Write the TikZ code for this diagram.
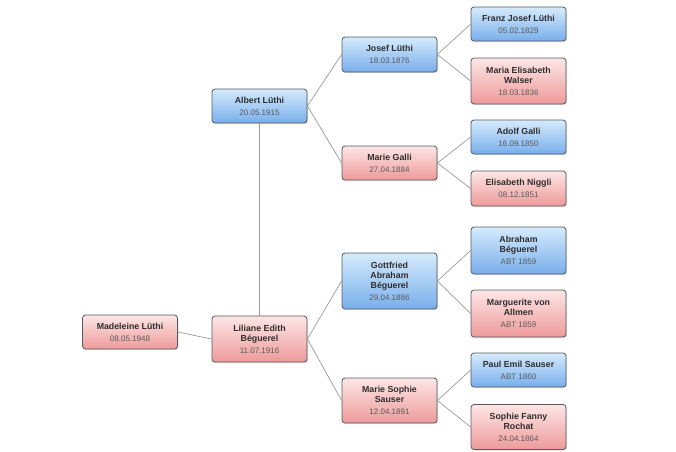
\documentclass[tikz,border=0pt]{standalone}
\usepackage{fontspec}
\setmainfont{Liberation Sans}
\usetikzlibrary{shadows}
\definecolor{bluetop}{HTML}{D6EBFC}
\definecolor{bluebot}{HTML}{78AEEB}
\definecolor{pinktop}{HTML}{FDE6E6}
\definecolor{pinkbot}{HTML}{EE9A9A}
\definecolor{boxline}{HTML}{555A60}
\definecolor{namecol}{HTML}{2E2E2E}
\definecolor{datecol}{HTML}{5A5A5A}
\definecolor{linkcol}{HTML}{9A9A9A}
\newcommand{\pname}[1]{{\bfseries #1}}
\newcommand{\pdate}[1]{{\fontsize{8}{10}\selectfont\color{datecol}#1}}
\tikzset{
  person/.style={draw=boxline, line width=0.8pt, rounded corners=3pt,
    minimum width=95pt, inner sep=0pt, align=center, text=namecol,
    font=\fontsize{8.8}{10.2}\selectfont,
    drop shadow={opacity=0.25, shadow xshift=1pt, shadow yshift=-1.2pt}},
  male/.style={person, top color=bluetop, bottom color=bluebot},
  female/.style={person, top color=pinktop, bottom color=pinkbot},
  link/.style={draw=linkcol, line width=0.7pt}
}
\begin{document}
\begin{tikzpicture}[x=1pt,y=-1pt]
\useasboundingbox (0,0) rectangle (676,451);
% generation 0
\node[female, minimum height=34pt] (mad) at (130,332)
  {\pname{Madeleine Lüthi}\\[1.5pt]\pdate{08.05.1948}};
% generation 1
\node[male, minimum height=34pt] (alb) at (259.5,106)
  {\pname{Albert Lüthi}\\[1.5pt]\pdate{20.05.1915}};
\node[female, minimum height=46pt] (lil) at (259.5,339)
  {\pname{Liliane Edith}\\\pname{Béguerel}\\[1.5pt]\pdate{11.07.1916}};
% generation 2
\node[male, minimum height=35pt] (jos) at (389.5,54.5)
  {\pname{Josef Lüthi}\\[1.5pt]\pdate{18.03.1876}};
\node[female, minimum height=34pt] (mga) at (389.5,163)
  {\pname{Marie Galli}\\[1.5pt]\pdate{27.04.1884}};
\node[male, minimum height=56pt] (got) at (389.5,281)
  {\pname{Gottfried}\\\pname{Abraham}\\\pname{Béguerel}\\[1.5pt]\pdate{29.04.1886}};
\node[female, minimum height=45pt] (mss) at (389.5,400.5)
  {\pname{Marie Sophie}\\\pname{Sauser}\\[1.5pt]\pdate{12.04.1891}};
% generation 3
\node[male, minimum height=34pt] (fjl) at (518.5,24)
  {\pname{Franz Josef Lüthi}\\[1.5pt]\pdate{05.02.1829}};
\node[female, minimum height=46pt] (mew) at (518.5,81)
  {\pname{Maria Elisabeth}\\\pname{Walser}\\[1.5pt]\pdate{18.03.1836}};
\node[male, minimum height=34pt] (ado) at (518.5,137)
  {\pname{Adolf Galli}\\[1.5pt]\pdate{16.09.1850}};
\node[female, minimum height=35pt] (eni) at (518.5,188.5)
  {\pname{Elisabeth Niggli}\\[1.5pt]\pdate{08.12.1851}};
\node[male, minimum height=47pt] (abr) at (518.5,250.5)
  {\pname{Abraham}\\\pname{Béguerel}\\[1.5pt]\pdate{ABT 1859}};
\node[female, minimum height=47pt] (mva) at (518.5,313.5)
  {\pname{Marguerite von}\\\pname{Allmen}\\[1.5pt]\pdate{ABT 1859}};
\node[male, minimum height=34pt] (pes) at (518.5,370)
  {\pname{Paul Emil Sauser}\\[1.5pt]\pdate{ABT 1860}};
\node[female, minimum height=45pt] (sfr) at (518.5,427)
  {\pname{Sophie Fanny}\\\pname{Rochat}\\[1.5pt]\pdate{24.04.1864}};
% connectors
\draw[link] (mad.east) -- (lil.west);
\draw[link] (alb.south) -- (lil.north);
\draw[link] (alb.east) -- (jos.west);
\draw[link] (alb.east) -- (mga.west);
\draw[link] (lil.east) -- (got.west);
\draw[link] (lil.east) -- (mss.west);
\draw[link] (jos.east) -- (fjl.west);
\draw[link] (jos.east) -- (mew.west);
\draw[link] (mga.east) -- (ado.west);
\draw[link] (mga.east) -- (eni.west);
\draw[link] (got.east) -- (abr.west);
\draw[link] (got.east) -- (mva.west);
\draw[link] (mss.east) -- (pes.west);
\draw[link] (mss.east) -- (sfr.west);
\end{tikzpicture}
\end{document}
